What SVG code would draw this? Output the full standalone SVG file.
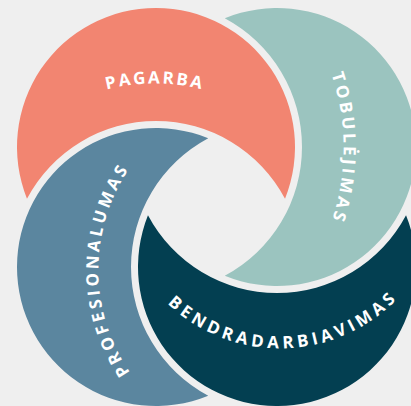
<svg xmlns="http://www.w3.org/2000/svg" xmlns:xlink="http://www.w3.org/1999/xlink" width="411" height="406" viewBox="0 0 411 406">
<style>
.lbl{font-family:"Open Sans","Liberation Sans",sans-serif;font-weight:700;font-size:17px;fill:#ffffff;}
</style>
<defs>
<path id="pPag" d="M 87.8 95.3 A 196.6 196.6 0 0 1 222.2 95.3"/>
<path id="pTob" d="M 313 33.7 A 228.6 228.6 0 0 1 313 262.3"/>
<path id="pBen" d="M 140.7 270.4 A 163.4 163.4 0 0 0 423.6 263.0"/>
<path id="pPro" d="M 189.2 427.3 A 181.6 181.6 0 0 1 189.2 112.7"/>
</defs>
<rect width="411" height="406" fill="#efefef"/>
<g id="pagarba">
<path d="M 26.97 198.69 A 139 139 0 1 1 285.03 198.69 A 146 146 0 0 0 26.97 198.69 Z" fill="#f28571"/>
<text class="lbl" letter-spacing="2.4" text-anchor="middle"><textPath xlink:href="#pPag" href="#pPag" startOffset="50%">PAGARBA</textPath></text>
</g>
<g id="tobulejimas">
<path d="M 224.74 18.2 A 139 139 0 1 1 224.74 275.8 A 146 146 0 0 0 224.74 18.2 Z" fill="#9bc4bf"/>
<text class="lbl" letter-spacing="3.2" text-anchor="middle"><textPath xlink:href="#pTob" href="#pTob" startOffset="50%">TOBULĖJIMAS</textPath></text>
</g>
<g id="bendradarbiavimas">
<path d="M 406.03 215.31 A 139 139 0 1 1 147.97 215.31 A 146 146 0 0 0 406.03 215.31 Z" fill="#033f51"/>
<text class="lbl" letter-spacing="4.0" text-anchor="middle"><textPath xlink:href="#pBen" href="#pBen" startOffset="50%">BENDRADARBIAVIMAS</textPath></text>
</g>
<g id="profesionalumas">
<path d="M 208.26 395.8 A 139 139 0 1 1 208.26 138.2 A 146 146 0 0 0 208.26 395.8 Z" fill="#5b869f"/>
<text class="lbl" letter-spacing="3.3" text-anchor="middle"><textPath xlink:href="#pPro" href="#pPro" startOffset="50%">PROFESIONALUMAS</textPath></text>
</g>
<g id="connectors"/>
</svg>
